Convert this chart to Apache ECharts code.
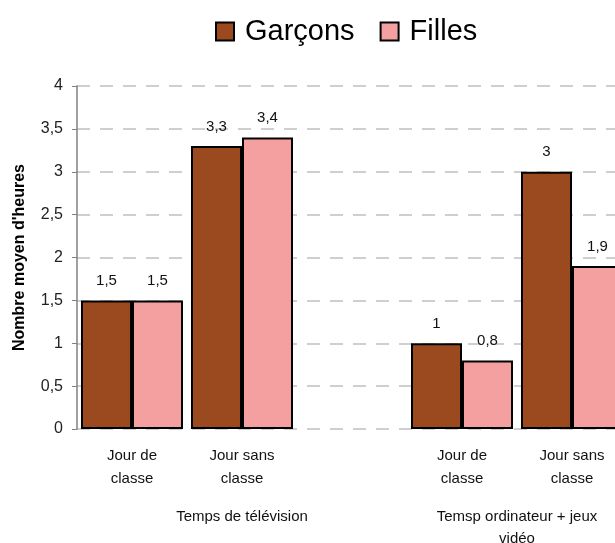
<!DOCTYPE html>
<html>
<head>
<meta charset="utf-8">
<script src="https://cdn.jsdelivr.net/npm/echarts@6/dist/echarts.min.js"></script>
<style>
  html, body { margin: 0; padding: 0; background: #fff; }
  #chart { width: 615px; height: 543px; }
</style>
</head>
<body>
<div id="chart"></div>
<script>
// categories (blank slot between the two groups, as in the spreadsheet)
var categories = ['Jour de\nclasse', 'Jour sans\nclasse', '', 'Jour de\nclasse', 'Jour sans\nclasse'];
var garcons = [1.5, 3.3, null, 1, 3];
var filles = [1.5, 3.4, null, 0.8, 1.9];
var groupNames = ['Temps de télévision', 'Temsp ordinateur + jeux\nvidéo'];
var groupPos = [1, 3.5];
var yTicks = [0, 0.5, 1, 1.5, 2, 2.5, 3, 3.5, 4];

var font = 'Liberation Sans, Arial, sans-serif';
var comma = function (v) { return String(v).replace('.', ','); };

var chart = echarts.init(document.getElementById('chart'));

var option = {
  animation: false,
  textStyle: { fontFamily: font },
  legend: {
    top: 12,
    left: 210,
    itemWidth: 18,
    itemHeight: 18,
    itemGap: 25,
    icon: 'rect',
    textStyle: { fontSize: 29, color: '#000', fontFamily: font, padding: [0, 0, 0, 6] },
    data: ['Garçons', 'Filles']
  },
  grid: { left: 77, top: 86, width: 550, height: 343, outerBoundsMode: 'none', containLabel: false },
  xAxis: [
    {
      type: 'category',
      data: categories,
      axisLine: { show: false },
      axisTick: { show: false },
      axisLabel: {
        fontSize: 15, color: '#111', lineHeight: 23, margin: 15, interval: 0
      }
    },
    {
      type: 'value',
      position: 'bottom',
      min: -0.5,
      max: 4.5,
      axisLine: { show: false },
      axisTick: { show: false },
      splitLine: { show: false },
      axisLabel: {
        customValues: groupPos,
        fontSize: 15, color: '#111', lineHeight: 22, margin: 77,
        verticalAlign: 'top',
        formatter: function (v) {
          var i = groupPos.indexOf(v);
          return i >= 0 ? groupNames[i] : '';
        }
      }
    }
  ],
  yAxis: {
    type: 'value',
    min: 0,
    max: 4,
    interval: 0.5,
    name: "Nombre moyen d'heures",
    nameLocation: 'middle',
    nameGap: 49,
    nameTextStyle: { fontSize: 16, fontWeight: 'bold', color: '#000', fontFamily: font },
    axisLine: { show: true, onZero: false, lineStyle: { color: '#808080', width: 1.5 } },
    axisTick: { show: true, length: 5, lineStyle: { color: '#808080' } },
    axisLabel: {
      fontSize: 16, color: '#222', margin: 14,
      formatter: function (v) { return yTicks.indexOf(v) >= 0 ? comma(v) : ''; }
    },
    splitLine: { lineStyle: { color: '#c0c0c0', type: [13, 10], width: 1.5 } }
  },
  series: [
    {
      name: 'Garçons',
      type: 'bar',
      data: garcons,
      barWidth: 51,
      barGap: '0%',
      itemStyle: { color: '#9b4a1f', borderColor: '#000', borderWidth: 2 },
      label: {
        show: true, position: 'top', distance: 12, fontSize: 15, color: '#111',
        formatter: function (p) { return comma(p.value); }
      }
    },
    {
      name: 'Filles',
      type: 'bar',
      data: filles,
      barWidth: 51,
      barGap: '0%',
      itemStyle: { color: '#f4a0a0', borderColor: '#000', borderWidth: 2 },
      label: {
        show: true, position: 'top', distance: 12, fontSize: 15, color: '#111',
        formatter: function (p) { return comma(p.value); }
      }
    }
  ]
};

chart.setOption(option);
</script>
</body>
</html>
